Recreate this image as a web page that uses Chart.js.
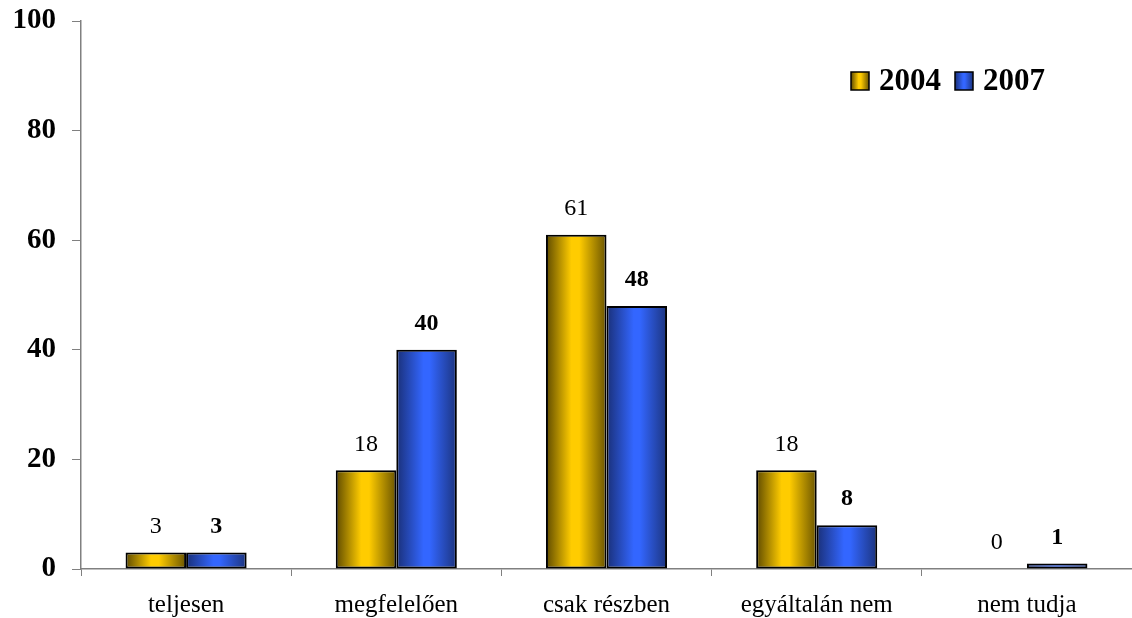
<!DOCTYPE html>
<html>
<head>
<meta charset="utf-8">
<script src="https://cdn.jsdelivr.net/npm/chart.js@4/dist/chart.umd.min.js"></script>
<style>
html,body{margin:0;padding:0;background:#fff;}
#wrap{width:1132px;height:618px;}
</style>
</head>
<body>
<div id="wrap"><canvas id="c"></canvas></div>
<script>
const categories = ['teljesen', 'megfelelően', 'csak részben', 'egyáltalán nem', 'nem tudja'];
const seriesLabels = ['2004', '2007'];
const values2004 = [3, 18, 61, 18, 0];
const values2007 = [3, 40, 48, 8, 1];
const yTicks = [0, 20, 40, 60, 80, 100];

const gradStops = [
  [[0, '#5e4a00'], [0.42, '#ffcc00'], [0.55, '#ffcc00'], [1, '#6a5400']],
  [[0, '#1a3078'], [0.45, '#3366ff'], [0.55, '#3366ff'], [1, '#1c347e']]
];
const flatColors = ['#ffcc00', '#3366ff'];
const CAT_PCT = 0.576;

function makeGrad(ctx, x0, x1, stops) {
  const g = ctx.createLinearGradient(x0, 0, x1, 0);
  stops.forEach(s => g.addColorStop(s[0], s[1]));
  return g;
}

function barBg(context) {
  const ds = context.datasetIndex;
  if (context.type !== 'data') return flatColors[ds];
  const chart = context.chart;
  const xs = chart.scales.x;
  if (!xs || !chart.chartArea) return flatColors[ds];
  const center = xs.getPixelForValue(context.dataIndex);
  const catW = (chart.chartArea.right - chart.chartArea.left) / categories.length;
  const barW = catW * CAT_PCT / 2;
  const left = center - barW + ds * barW;
  return makeGrad(chart.ctx, left, left + barW, gradStops[ds]);
}

const labelPlugin = {
  id: 'valueLabels',
  afterDatasetsDraw(chart) {
    const ctx = chart.ctx;
    ctx.save();
    ctx.textAlign = 'center';
    ctx.textBaseline = 'middle';
    ctx.fillStyle = '#000';
    chart.data.datasets.forEach((d, i) => {
      const meta = chart.getDatasetMeta(i);
      ctx.font = (i === 1 ? 'bold ' : '') + '24px "Liberation Serif"';
      meta.data.forEach((bar, j) => {
        ctx.fillText(String(d.data[j]), bar.x, bar.y - 26);
      });
    });
    ctx.restore();
  }
};

const legendPlugin = {
  id: 'customLegend',
  afterDraw(chart) {
    const ctx = chart.ctx;
    const ca = chart.chartArea;
    ctx.save();
    ctx.font = 'bold 31px "Liberation Serif"';
    ctx.textBaseline = 'middle';
    ctx.fillStyle = '#000';
    const y = 81;
    let x = ca.left + 770;
    chart.data.datasets.forEach((d, i) => {
      const box = 18;
      ctx.fillStyle = makeGrad(ctx, x, x + box, gradStops[i]);
      ctx.fillRect(x, y - box / 2, box, box);
      ctx.lineWidth = 1.5;
      ctx.strokeStyle = '#000';
      ctx.strokeRect(x, y - box / 2, box, box);
      ctx.fillStyle = '#000';
      ctx.textAlign = 'left';
      ctx.fillText(d.label, x + 28, y + 1);
      x += 28 + ctx.measureText(d.label).width + 14;
    });
    ctx.restore();
  }
};

const barStyle = {
  categoryPercentage: CAT_PCT,
  barPercentage: 1,
  backgroundColor: barBg,
  borderColor: '#000',
  borderWidth: 2,
  borderSkipped: false
};

new Chart(document.getElementById('c'), {
  type: 'bar',
  data: {
    labels: categories,
    datasets: [
      Object.assign({ label: seriesLabels[0], data: values2004 }, barStyle),
      Object.assign({ label: seriesLabels[1], data: values2007 }, barStyle)
    ]
  },
  options: {
    responsive: true,
    maintainAspectRatio: false,
    animation: false,
    devicePixelRatio: 1,
    layout: { padding: { top: 21, right: 0, bottom: 0, left: 0 } },
    plugins: {
      legend: { display: false },
      tooltip: { enabled: false },
      colors: { enabled: false }
    },
    scales: {
      x: {
        grid: { display: true, drawOnChartArea: false, drawTicks: true, tickLength: 7, color: '#808080', offset: true },
        border: { display: true, color: '#808080', width: 1.5 },
        ticks: { color: '#000', font: { family: 'Liberation Serif', size: 25 }, padding: 14, maxRotation: 0, autoSkip: false },
        afterFit(scale) { scale.height = 49; scale.paddingLeft = 0; scale.paddingRight = 0; }
      },
      y: {
        min: 0,
        max: 100,
        afterBuildTicks(scale) { scale.ticks = yTicks.map(v => ({ value: v })); },
        grid: { display: true, drawOnChartArea: false, drawTicks: true, tickLength: 9, color: '#808080' },
        border: { display: true, color: '#808080', width: 1.5 },
        ticks: { color: '#000', font: { family: 'Liberation Serif', size: 29, weight: 'bold' }, padding: 16 },
        afterFit(scale) { scale.width = 81; scale.paddingTop = 0; scale.paddingBottom = 0; }
      }
    }
  },
  plugins: [labelPlugin, legendPlugin]
});
</script>
</body>
</html>
